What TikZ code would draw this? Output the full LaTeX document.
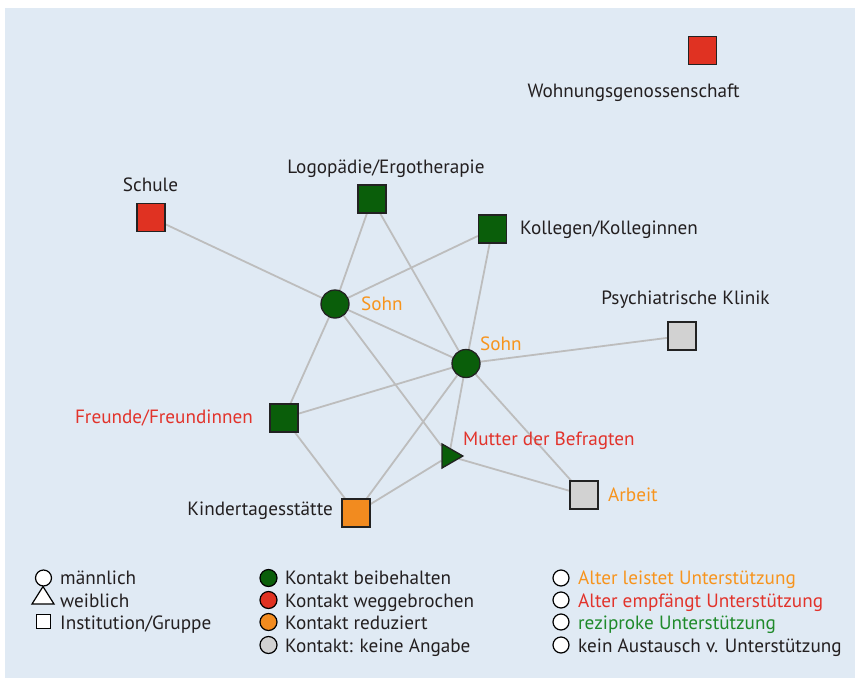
\documentclass[tikz,border=0pt]{standalone}
\usepackage{fontspec}
\setmainfont{PT Sans}
\usetikzlibrary{shapes.geometric,backgrounds}
\definecolor{bg}{HTML}{E0EAF4}
\definecolor{cgreen}{HTML}{0A5E0A}
\definecolor{cred}{HTML}{E03222}
\definecolor{corange}{HTML}{F28B1F}
\definecolor{cgray}{HTML}{D2D2D2}
\definecolor{edgec}{HTML}{BDBDBD}
\definecolor{txt}{HTML}{231F20}
\definecolor{torange}{HTML}{F7941D}
\definecolor{tred}{HTML}{E2332B}
\definecolor{tgreen}{HTML}{1F8A2A}
\definecolor{nborder}{HTML}{222222}
\begin{document}
\begin{tikzpicture}[x=1pt,y=-1pt,
  sq/.style={rectangle,draw=nborder,line width=1.3pt,minimum size=28pt,inner sep=0pt},
  ci/.style={circle,draw=nborder,line width=1.3pt,minimum size=28pt,inner sep=0pt},
  tri/.style={regular polygon,regular polygon sides=3,shape border rotate=-90,draw=nborder,line width=1.3pt,minimum size=27.7pt,inner sep=0pt},
  lab/.style={font=\fontsize{19.2}{22}\selectfont,text=txt,inner sep=0pt},
  lci/.style={circle,draw=black,line width=1.2pt,minimum size=16pt,inner sep=0pt},
  lsq/.style={rectangle,draw=black,line width=1.2pt,minimum size=14pt,inner sep=0pt,fill=white},
  edge/.style={draw=edgec,line width=1.8pt}]
\useasboundingbox (0,0) rectangle (855,678);
% nodes
\node[sq,fill=cred] (wohn) at (702.5,50.5) {};
\node[sq,fill=cred] (schule) at (151,217.5) {};
\node[sq,fill=cgreen] (logo) at (372,199) {};
\node[sq,fill=cgreen] (koll) at (492.5,229) {};
\node[ci,fill=cgreen] (sohn1) at (335,304) {};
\node[ci,fill=cgreen] (sohn2) at (466,363.5) {};
\node[sq,fill=cgray] (psych) at (682,336) {};
\node[sq,fill=cgreen] (freunde) at (284,418) {};
\node[tri,fill=cgreen] (mutter) at (449,456) {};
\node[sq,fill=cgray] (arbeit) at (584,495) {};
\node[sq,fill=corange] (kita) at (356,513) {};
% labels
\node[lab,anchor=base] (lwohn) at (633.5,97) {Wohnungsgenossenschaft};
\node[lab,anchor=base] (lschule) at (150.5,191) {Schule};
\node[lab,anchor=base] (llogo) at (386,173) {Logopädie/Ergotherapie};
\node[lab,anchor=base west] (lkoll) at (520,234) {Kollegen/Kolleginnen};
\node[lab,anchor=base] (lpsych) at (685.5,304) {Psychiatrische Klinik};
\node[lab,anchor=base east,text=tred] (lfreunde) at (253,423) {Freunde/Freundinnen};
\node[lab,anchor=base east] (lkita) at (333,515) {Kindertagesstätte};
\node[lab,anchor=base west,text=torange] (lsohn1) at (361,310) {Sohn};
\node[lab,anchor=base west,text=torange] (lsohn2) at (480,350) {Sohn};
\node[lab,anchor=base west,text=tred] (lmutter) at (463,445) {Mutter der Befragten};
\node[lab,anchor=base west,text=torange] (larbeit) at (608,501) {Arbeit};
% edges
\begin{pgfonlayer}{background}
\fill[bg] (5,8) rectangle (855,678);
\draw[edge] (schule) -- (sohn1);
\draw[edge] (logo) -- (sohn1);
\draw[edge] (logo) -- (sohn2);
\draw[edge] (koll) -- (sohn1);
\draw[edge] (koll) -- (sohn2);
\draw[edge] (sohn1) -- (sohn2);
\draw[edge] (sohn1) -- (freunde);
\draw[edge] (sohn1) -- (mutter);
\draw[edge] (sohn2) -- (psych);
\draw[edge] (sohn2) -- (freunde);
\draw[edge] (sohn2) -- (kita);
\draw[edge] (sohn2) -- (mutter);
\draw[edge] (sohn2) -- (arbeit);
\draw[edge] (freunde) -- (kita);
\draw[edge] (kita) -- (mutter);
\draw[edge] (mutter) -- (arbeit);
\end{pgfonlayer}
% legend column 1
\node[lci,fill=white] (lg1) at (43.5,578) {};
\draw[black,line width=1.2pt,fill=white,line join=miter] (32,604) -- (54,604) -- (43,586.5) -- cycle;
\node[lsq] (lg3) at (43.5,621.5) {};
\node[lab,anchor=base west] (tl1) at (60,584) {männlich};
\node[lab,anchor=base west] (tl2) at (60,607) {weiblich};
\node[lab,anchor=base west] (tl3) at (60,629) {Institution/Gruppe};
% legend column 2
\node[lci,fill=cgreen,minimum size=17pt] (lk1) at (268.5,578) {};
\node[lci,fill=cred,minimum size=17pt] (lk2) at (268.5,600) {};
\node[lci,fill=corange,minimum size=17pt] (lk3) at (268.5,622) {};
\node[lci,fill=cgray,minimum size=17pt] (lk4) at (268.5,645) {};
\node[lab,anchor=base west] (tk1) at (285,584) {Kontakt beibehalten};
\node[lab,anchor=base west] (tk2) at (285,607) {Kontakt weggebrochen};
\node[lab,anchor=base west] (tk3) at (285,629) {Kontakt reduziert};
\node[lab,anchor=base west] (tk4) at (285,652) {Kontakt: keine Angabe};
% legend column 3
\node[lci,fill=white] (lu1) at (561,578) {};
\node[lci,fill=white] (lu2) at (561,600) {};
\node[lci,fill=white] (lu3) at (561,622) {};
\node[lci,fill=white] (lu4) at (561,645) {};
\node[lab,anchor=base west,text=torange] (tu1) at (578,584) {Alter leistet Unterstützung};
\node[lab,anchor=base west,text=tred] (tu2) at (578,607) {Alter empfängt Unterstützung};
\node[lab,anchor=base west,text=tgreen] (tu3) at (578,629) {reziproke Unterstützung};
\node[lab,anchor=base west] (tu4) at (578,652) {kein Austausch v. Unterstützung};
\end{tikzpicture}
\end{document}
